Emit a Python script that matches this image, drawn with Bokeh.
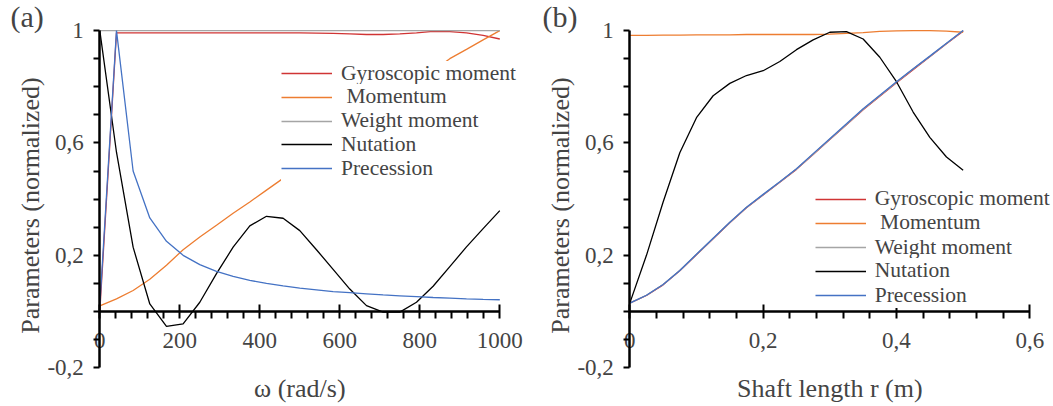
import math
from bokeh.plotting import figure
from bokeh.models import (LinearAxis, FixedTicker, CustomJSTickFormatter, Legend,
                          LegendItem, Label, Range1d)
from bokeh.layouts import row
from bokeh.embed import file_html
from bokeh.resources import INLINE

FONT = "Liberation Serif"

# ---------------- panel (a) data: omega (rad/s) ----------------
omega = [0, 41.7, 83.3, 125, 166.7, 208.3, 250, 291.7, 333.3, 375, 416.7, 458.3, 500,
         541.7, 583.3, 625, 666.7, 708.3, 750, 791.7, 833.3, 875, 916.7, 958.3, 1000]
a_gyro = [0.0, 0.992, 0.992, 0.992, 0.992, 0.992, 0.992, 0.992, 0.992, 0.992, 0.992, 0.992, 0.992,
          0.991, 0.99, 0.988, 0.986, 0.986, 0.988, 0.992, 0.997, 0.996, 0.992, 0.983, 0.97]
a_momentum = [0.02, 0.045, 0.075, 0.115, 0.165, 0.22, 0.265, 0.307, 0.35, 0.39, 0.432, 0.474, 0.517,
              0.56, 0.6, 0.645, 0.687, 0.73, 0.77, 0.815, 0.857, 0.9, 0.933, 0.967, 1.0]
a_weight = [1.0] * 25
a_nutation = [1.0, 0.567, 0.229, 0.027, -0.053, -0.044, 0.033, 0.135, 0.229, 0.305, 0.339, 0.332, 0.288,
              0.22, 0.15, 0.08, 0.021, -0.002, -0.002, 0.033, 0.09, 0.16, 0.23, 0.295, 0.359]
a_precession = [0.02, 1.0, 0.5, 0.333, 0.25, 0.2, 0.167, 0.143, 0.125, 0.111, 0.1, 0.091, 0.083,
                0.077, 0.071, 0.067, 0.063, 0.059, 0.056, 0.053, 0.05, 0.048, 0.045, 0.043, 0.042]

# ---------------- panel (b) data: shaft length r (m) ----------------
shaft_r = [0, 0.025, 0.05, 0.075, 0.1, 0.125, 0.15, 0.175, 0.2, 0.225, 0.25, 0.275, 0.3,
           0.325, 0.35, 0.375, 0.4, 0.425, 0.45, 0.475, 0.5]
b_gyro = [0.03, 0.057, 0.095, 0.145, 0.202, 0.259, 0.316, 0.369, 0.415, 0.46, 0.506, 0.559, 0.612,
          0.665, 0.718, 0.766, 0.814, 0.861, 0.907, 0.953, 0.998]
b_momentum = [0.983, 0.983, 0.984, 0.984, 0.985, 0.985, 0.985, 0.986, 0.986, 0.986, 0.986, 0.986, 0.987,
              0.99, 0.993, 0.997, 0.999, 1.0, 1.0, 0.998, 0.994]
b_weight = [0.03, 0.058, 0.096, 0.146, 0.203, 0.26, 0.317, 0.37, 0.416, 0.461, 0.507, 0.56, 0.613,
            0.666, 0.72, 0.768, 0.816, 0.863, 0.908, 0.954, 1.0]
b_nutation = [0.03, 0.2, 0.39, 0.565, 0.69, 0.768, 0.812, 0.84, 0.857, 0.89, 0.932, 0.967, 0.994,
              0.996, 0.97, 0.905, 0.818, 0.71, 0.62, 0.55, 0.503]
b_precession = [0.03, 0.058, 0.096, 0.146, 0.204, 0.261, 0.318, 0.371, 0.417, 0.462, 0.508, 0.562, 0.615,
                0.668, 0.722, 0.77, 0.818, 0.864, 0.909, 0.955, 1.0]

series_names = ["Gyroscopic moment", "\u00a0Momentum", "Weight moment", "Nutation", "Precession"]
series_colors = ["#D03434", "#ED7D31", "#A5A5A5", "#000000", "#4472C4"]

y_major = [-0.2, 0.2, 0.6, 1.0]
y_minor = [-0.1, 0.0, 0.1, 0.3, 0.4, 0.5, 0.7, 0.8, 0.9]
a_x_major = [0, 200, 400, 600, 800, 1000]
a_x_minor = [40, 80, 120, 160, 240, 280, 320, 360, 440, 480, 520, 560, 640, 680, 720, 760, 840, 880, 920, 960]
b_x_major = [0, 0.2, 0.4, 0.6]
b_x_minor = [0.04, 0.08, 0.12, 0.16, 0.24, 0.28, 0.32, 0.36, 0.44, 0.48, 0.52, 0.56]

Y_RANGE = (-0.338, 1.107)
LEG_FONT_PX = 21.5
LEG_ROW_H = 25.2   # rendered height of one legend row at that font size
LEG_PAD = 2
LEG_SHIFT = 3.5    # measured offset of the rendered row centre


def comma_fmt():
    return CustomJSTickFormatter(code="""
if (Math.abs(tick) < 1e-9) return '0';
if (Math.abs(tick - 1) < 1e-9) return '1';
if (Math.abs(tick) >= 10) return tick.toFixed(0);
return tick.toFixed(1).replace('.', ',');
""")


def make_panel(width, px_per_unit, x_max, xs, ys_list, xlabel, x_major, x_minor, tag,
               leg_left, leg_rows, tag_left):
    # axis origin sits 99.3 px from the left edge of each panel
    x0 = -99.3 / px_per_unit
    x1 = (width - 99.3) / px_per_unit
    p = figure(width=width, height=406, x_range=Range1d(x0, x1), y_range=Range1d(*Y_RANGE),
               output_backend="svg", toolbar_location=None,
               x_axis_location=None, y_axis_location=None,
               min_border_left=0, min_border_right=0, min_border_top=0, min_border_bottom=0)
    p.outline_line_color = None
    p.grid.grid_line_color = None
    p.background_fill_color = "white"
    p.border_fill_color = "white"

    # y axis at x = 0
    yax = LinearAxis(fixed_location=0, bounds=(-0.2, 1.0),
                     ticker=FixedTicker(ticks=y_major, minor_ticks=y_minor), formatter=comma_fmt())
    yax.axis_line_width = 2.5
    yax.major_tick_line_width = 2
    yax.minor_tick_line_width = 2
    yax.major_tick_in = 0
    yax.major_tick_out = 6
    yax.minor_tick_in = 0
    yax.minor_tick_out = 6
    yax.major_label_standoff = 10
    yax.major_label_text_font = FONT
    yax.major_label_text_font_size = "23px"
    p.add_layout(yax, "left")

    # x axis crossing at y = 0
    xax = LinearAxis(fixed_location=0, bounds=(0, x_max),
                     ticker=FixedTicker(ticks=x_major, minor_ticks=x_minor), formatter=comma_fmt())
    xax.axis_line_width = 2.5
    xax.major_tick_line_width = 2
    xax.minor_tick_line_width = 2
    xax.major_tick_in = 7
    xax.major_tick_out = 7
    xax.minor_tick_in = 0
    xax.minor_tick_out = 7
    xax.major_label_standoff = 14
    xax.major_label_text_font = FONT
    xax.major_label_text_font_size = "23px"
    p.add_layout(xax, "below")

    renderers = []
    for ys, color in zip(ys_list, series_colors):
        renderers.append(p.line(xs, ys, line_color=color, line_width=1.3))

    # one legend box per row so that the row pitch matches the original;
    # drawn at glyph level: above the data lines, below the axes
    for r, name, row_center in zip(renderers, series_names, leg_rows):
        vy = 406 - row_center - LEG_ROW_H / 2 - LEG_PAD + LEG_SHIFT
        leg = Legend(items=[LegendItem(label=name, renderers=[r])],
                     location=(leg_left - LEG_PAD, vy), background_fill_color="white",
                     background_fill_alpha=1.0, border_line_color=None,
                     glyph_width=51, glyph_height=20, label_height=20, label_standoff=9,
                     spacing=0, padding=LEG_PAD, margin=0, level="glyph",
                     label_text_font=FONT, label_text_font_size=f"{LEG_FONT_PX}px")
        p.add_layout(leg, "center")

    # axis titles and panel tag (positions in px from the axis origin, converted to data)
    def at(dx_px, y_px):
        return dx_px / px_per_unit, (311 - y_px) / 281.0

    tx, ty = at(30.4 - 99.3, 205)
    p.add_layout(Label(x=tx, y=ty, text="Parameters (normalized)", angle=math.pi / 2,
                       text_font=FONT, text_font_size="26px",
                       text_align="center", text_baseline="middle"))
    tx, ty = at(200, 388)
    p.add_layout(Label(x=tx, y=ty, text=xlabel, text_font=FONT, text_font_size="26px",
                       text_align="center", text_baseline="middle"))
    tx, ty = at(tag_left - 99.3, 16)
    p.add_layout(Label(x=tx, y=ty, text=tag, text_font=FONT, text_font_size="30px",
                       text_align="left", text_baseline="middle"))
    return p


pa = make_panel(530, 0.4, 1000, omega, [a_gyro, a_momentum, a_weight, a_nutation, a_precession],
                "ω (rad/s)", a_x_major, a_x_minor, "(a)",
                283, [74.5, 98, 122, 145.5, 169.5], 10)
pb = make_panel(523, 666.7, 0.6, shaft_r, [b_gyro, b_momentum, b_weight, b_nutation, b_precession],
                "Shaft length r (m)", b_x_major, b_x_minor, "(b)",
                286.7, [200, 224, 248.5, 272, 296.5], 12)

layout = row(pa, pb)
open("out.html", "w").write(file_html(layout, INLINE))
